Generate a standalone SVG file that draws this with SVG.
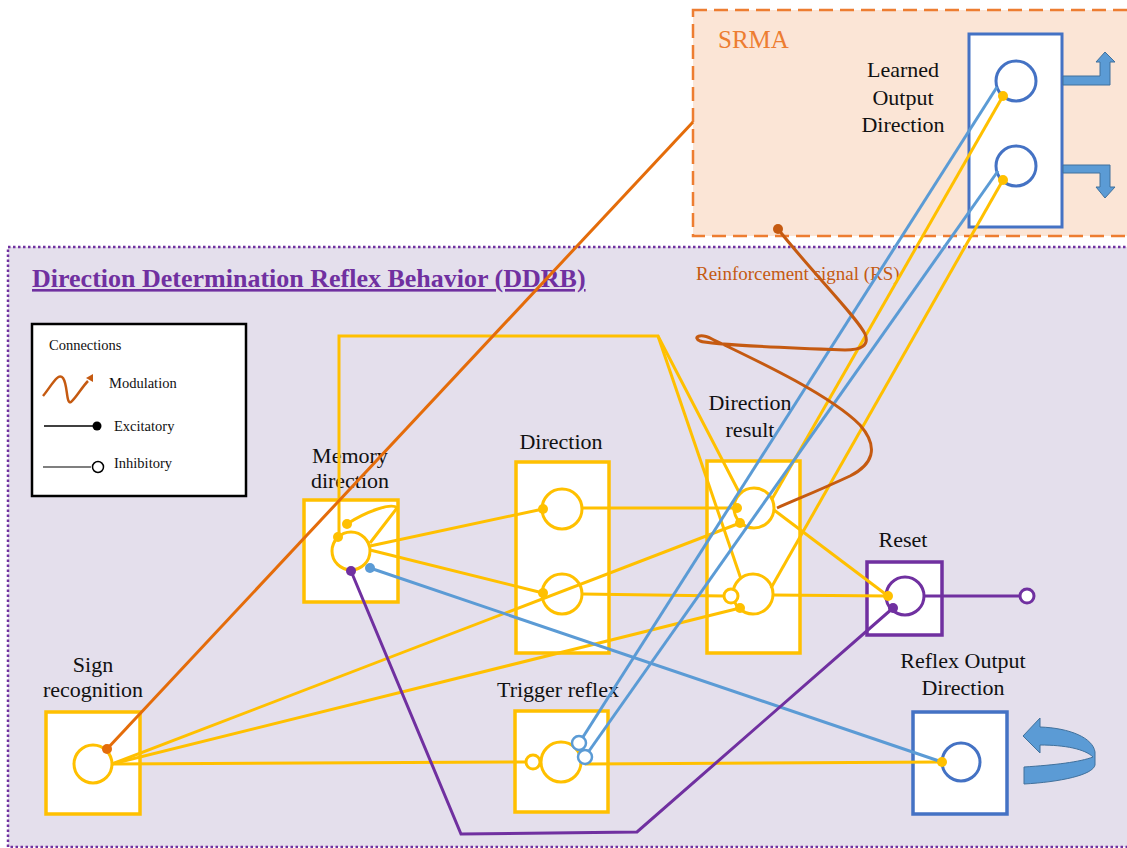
<svg xmlns="http://www.w3.org/2000/svg" width="1127" height="848" viewBox="0 0 1127 848">
<style>
.lbl{font-family:"Liberation Serif","Times New Roman",serif;font-size:22px;fill:#111;text-anchor:middle}
.leg{font-family:"Liberation Serif","Times New Roman",serif;font-size:14.5px;fill:#111}
.ybox{fill:#fff;stroke:#ffc000;stroke-width:3.5}
.ycirc{fill:#fff;stroke:#ffc000;stroke-width:3}
.bcirc{fill:#fff;stroke:#4472c4;stroke-width:3}
.y{stroke:#ffc000;stroke-width:3;fill:none}
.b{stroke:#5b9bd5;stroke-width:3;fill:none}
.p{stroke:#7030a0;stroke-width:3;fill:none}
.yd{fill:#ffc000}
.bd{fill:#5b9bd5}
.pd{fill:#7030a0}
.yo{fill:#fff;stroke:#ffc000;stroke-width:3}
.bo{fill:#fff;stroke:#5b9bd5;stroke-width:2.5}
.barrow{fill:#5b9bd5;stroke:#41719c;stroke-width:1}
</style>
<rect x="0" y="0" width="1127" height="848" fill="#fff"/>
<g id="srma">
<rect x="693" y="10" width="460" height="226" fill="#fbe5d6" stroke="#ed7d31" stroke-width="2.5" stroke-dasharray="14 7"/>
<text x="718" y="48" font-family="Liberation Serif, Times New Roman, serif" font-size="25" fill="#ed7d31">SRMA</text>
</g>
<g id="ddrb">
<rect x="8" y="247" width="1140" height="600" fill="#e4dfec" stroke="#7030a0" stroke-width="2.5" stroke-dasharray="2.5 2.5"/>
<text x="32" y="287" font-family="Liberation Serif, Times New Roman, serif" font-size="26" font-weight="bold" fill="#7030a0" text-decoration="underline">Direction Determination Reflex Behavior (DDRB)</text>
<text x="696" y="280" font-family="Liberation Serif, Times New Roman, serif" font-size="19" fill="#c55a11">Reinforcement signal (RS)</text>
</g>
<g id="legend">
<rect x="32" y="324" width="214" height="172" fill="#fff" stroke="#000" stroke-width="2.5"/>
<text class="leg" x="49" y="350">Connections</text>
<path d="M43,396 C52,385 58,372 63,378 C68,385 66,405 71,402 C76,398 82,387 88,381" fill="none" stroke="#c55a11" stroke-width="2.5"/>
<polygon points="86,378 93,374 93,382" fill="#c55a11"/>
<text class="leg" x="109" y="388">Modulation</text>
<line x1="44" y1="426" x2="96" y2="426" stroke="#000" stroke-width="1.5"/>
<circle cx="97" cy="426" r="4.5" fill="#000"/>
<text class="leg" x="114" y="431">Excitatory</text>
<line x1="43" y1="467" x2="91" y2="467" stroke="#000" stroke-width="1.2"/>
<circle cx="98" cy="467" r="5.5" fill="#fff" stroke="#000" stroke-width="1.5"/>
<text class="leg" x="114" y="468">Inhibitory</text>
</g>
<g id="learned-output">
<rect x="969" y="34" width="93" height="193" fill="#fff" stroke="#4472c4" stroke-width="3"/>
<circle class="bcirc" cx="1016" cy="81" r="20"/>
<circle class="bcirc" cx="1016" cy="166" r="20"/>
<text class="lbl" x="903" y="77">Learned</text>
<text class="lbl" x="903" y="105">Output</text>
<text class="lbl" x="903" y="132">Direction</text>
<polygon class="barrow" points="1063,76 1100,76 1100,62 1096,62 1105,52 1115,62 1110,62 1110,85 1063,85"/>
<polygon class="barrow" points="1063,165 1110,165 1110,187 1115,187 1105,198 1096,187 1100,187 1100,173 1063,173"/>
</g>
<g id="memory-direction">
<rect class="ybox" x="304" y="500" width="94" height="102"/>
<circle class="ycirc" cx="351" cy="551" r="19"/>
<text class="lbl" x="350" y="463">Memory</text>
<text class="lbl" x="350" y="488">direction</text>
</g>
<g id="direction">
<rect class="ybox" x="516" y="462" width="93" height="191"/>
<circle class="ycirc" cx="562" cy="509" r="20"/>
<circle class="ycirc" cx="562" cy="594" r="20"/>
<text class="lbl" x="561" y="449">Direction</text>
</g>
<g id="direction-result">
<rect class="ybox" x="707" y="461" width="93" height="192"/>
<circle class="ycirc" cx="754" cy="508" r="20"/>
<circle class="ycirc" cx="753" cy="594" r="20"/>
<text class="lbl" x="750" y="410">Direction</text>
<text class="lbl" x="750" y="437">result</text>
</g>
<g id="reset">
<rect x="867" y="562" width="75" height="73" fill="#fff" stroke="#7030a0" stroke-width="3.5"/>
<circle cx="905" cy="596" r="19" fill="#fff" stroke="#7030a0" stroke-width="3"/>
<text class="lbl" x="903" y="547">Reset</text>
</g>
<g id="sign-recognition">
<rect class="ybox" x="46" y="712" width="94" height="102"/>
<circle class="ycirc" cx="93" cy="764" r="19"/>
<text class="lbl" x="93" y="672">Sign</text>
<text class="lbl" x="93" y="697">recognition</text>
</g>
<g id="trigger-reflex">
<rect class="ybox" x="515" y="711" width="93" height="101"/>
<circle class="ycirc" cx="561" cy="762" r="20"/>
<text class="lbl" x="558" y="697">Trigger reflex</text>
</g>
<g id="reflex-output-direction">
<rect x="913" y="712" width="94" height="102" fill="#fff" stroke="#4472c4" stroke-width="3.5"/>
<circle class="bcirc" cx="961" cy="762" r="19"/>
<text class="lbl" x="963" y="668">Reflex Output</text>
<text class="lbl" x="963" y="695">Direction</text>
<path class="barrow" d="M1023,736 L1040,718 L1040,727 C1070,728 1093,738 1095,752 L1095,765 C1093,775 1060,782 1024,784 L1024,767 C1055,765 1080,762 1093,757 C1085,749 1065,745 1040,745 L1040,753 Z"/>
</g>
<g id="connectors">
<polyline class="y" points="339,537 339,336 658,336 740,494"/>
<line class="y" x1="658" y1="336" x2="741" y2="579"/>
<path class="y" d="M347,524 C365,512 392,502 397,508 L370,543"/>
<line class="y" x1="370" y1="546" x2="543" y2="509"/>
<line class="y" x1="370" y1="550" x2="543" y2="593"/>
<line class="y" x1="582" y1="508" x2="737" y2="508"/>
<line class="y" x1="582" y1="594" x2="724" y2="596"/>
<line class="y" x1="112" y1="764" x2="740" y2="523"/>
<line class="y" x1="112" y1="764" x2="740" y2="608"/>
<line class="y" x1="112" y1="764" x2="526" y2="762"/>
<line class="y" x1="585" y1="764" x2="942" y2="762"/>
<line class="y" x1="774" y1="510" x2="888" y2="596"/>
<line class="y" x1="773" y1="595" x2="888" y2="596"/>
<line class="y" x1="772" y1="499" x2="1003" y2="96"/>
<line class="y" x1="771" y1="588" x2="1003" y2="180"/>
<line class="b" x1="370" y1="568" x2="942" y2="762"/>
<line class="b" x1="997" y1="87" x2="583" y2="737"/>
<line class="b" x1="998" y1="171" x2="589" y2="751"/>
<polyline class="p" points="351,571 461,834 637,832 893,608"/>
<line class="p" x1="924" y1="596" x2="1020" y2="596"/>
<line x1="107" y1="749" x2="693" y2="122" stroke="#e46c0a" stroke-width="3"/>
<path d="M778,229 C810,270 858,318 865,334 C870,346 860,350 845,350 C790,348 710,345 700,341 C692,337 700,333 712,339 C760,362 830,395 860,425 C880,448 872,465 850,476 C820,490 795,500 777,508" fill="none" stroke="#c55a11" stroke-width="3"/>
<circle cx="778" cy="229" r="5" fill="#c55a11"/>
<circle cx="107" cy="749" r="5" fill="#e46c0a"/>
<circle class="yd" cx="347" cy="524" r="5"/>
<circle class="yd" cx="338" cy="537" r="5"/>
<circle class="yd" cx="543" cy="509" r="5"/>
<circle class="yd" cx="543" cy="593" r="5"/>
<circle class="yd" cx="737" cy="508" r="5"/>
<circle class="yd" cx="740" cy="523" r="5"/>
<circle class="yd" cx="740" cy="608" r="5"/>
<circle class="yd" cx="888" cy="596" r="5"/>
<circle class="yd" cx="942" cy="762" r="5"/>
<circle class="yd" cx="1003" cy="96" r="5"/>
<circle class="yd" cx="1003" cy="180" r="5"/>
<circle class="bd" cx="370" cy="568" r="5"/>
<circle class="pd" cx="351" cy="571" r="5"/>
<circle class="pd" cx="893" cy="608" r="5"/>
<circle class="yo" cx="731" cy="596" r="7"/>
<circle class="yo" cx="533" cy="762" r="7"/>
<circle class="bo" cx="579" cy="743" r="7"/>
<circle class="bo" cx="585" cy="757" r="7"/>
<circle cx="1027" cy="596" r="7" fill="#fff" stroke="#7030a0" stroke-width="3"/>
</g>
</svg>
